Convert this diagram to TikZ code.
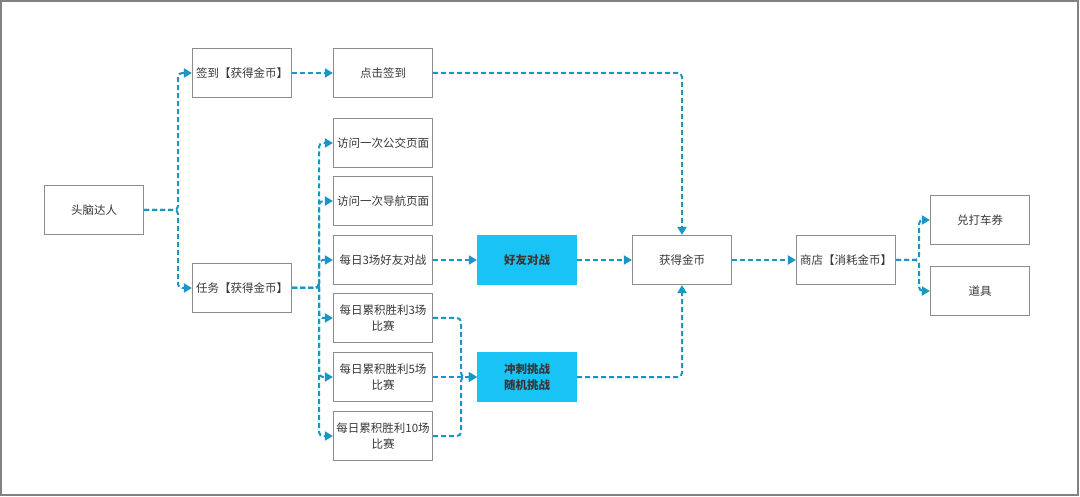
\documentclass[tikz,border=0pt]{standalone}
\usepackage{fontspec}
\setmainfont{Noto Sans CJK SC}
\usetikzlibrary{arrows.meta}
\definecolor{linec}{RGB}{27,150,196}
\definecolor{cyanf}{RGB}{25,195,245}
\definecolor{boxc}{RGB}{140,140,140}
\definecolor{txtc}{RGB}{55,55,55}
\definecolor{framec}{RGB}{130,130,130}
\tikzset{
  bx/.style={draw=boxc, line width=1.2pt, minimum width=99pt, minimum height=49pt, inner sep=1pt, align=center, text=txtc, font=\fontsize{11.5}{16}\selectfont},
  hl/.style={bx, fill=cyanf, draw=cyanf, font=\fontsize{11.5}{16}\selectfont\bfseries},
  conn/.style={draw=linec, line width=2pt, dash pattern=on 5pt off 3pt, rounded corners=4pt, -{Triangle[length=8pt,width=9pt]}},
}
\begin{document}
\begin{tikzpicture}[x=1pt,y=-1pt]
\useasboundingbox (0,0) rectangle (1080,497);
\draw[framec, line width=2pt] (1,1) rectangle (1078,495);
\node[bx] (root) at (94,210) {头脑达人};
\node[bx] (sign) at (242,73) {签到【获得金币】};
\node[bx] (click) at (383,73) {点击签到};
\node[bx] (task) at (242,288) {任务【获得金币】};
\node[bx] (t1) at (383,143) {访问一次公交页面};
\node[bx] (t2) at (383,201) {访问一次导航页面};
\node[bx] (t3) at (383,260) {每日3场好友对战};
\node[bx] (t4) at (383,318) {每日累积胜利3场\\比赛};
\node[bx] (t5) at (383,377) {每日累积胜利5场\\比赛};
\node[bx] (t6) at (383,436) {每日累积胜利10场\\比赛};
\node[hl] (friend) at (527,260) {好友对战};
\node[hl] (sprint) at (527,377) {冲刺挑战\\随机挑战};
\node[bx] (coin) at (682,260) {获得金币};
\node[bx] (shop) at (846,260) {商店【消耗金币】};
\node[bx] (taxi) at (980,220) {兑打车券};
\node[bx] (prop) at (980,291) {道具};

\draw[conn] (root.east) -| (178,140) |- (sign.west);
\draw[conn] (root.east) -| (178,250) |- (task.west);
\draw[conn] (sign.east) -- (click.west);
\draw[conn] (click.east) -| (coin.north);
\foreach \t in {t1,t2,t3,t4,t5,t6}{
  \draw[conn] (task.east) -| (319,288) |- (\t.west);
}
\draw[conn] (t3.east) -- (friend.west);
\draw[conn] (friend.east) -- (coin.west);
\draw[conn] (t4.east) -| (461,350) |- (sprint.west);
\draw[conn] (t5.east) -- (sprint.west);
\draw[conn] (t6.east) -| (461,400) |- (sprint.west);
\draw[conn] (sprint.east) -| (coin.south);
\draw[conn] (coin.east) -- (shop.west);
\draw[conn] (shop.east) -| (919,240) |- (taxi.west);
\draw[conn] (shop.east) -| (919,280) |- (prop.west);
\end{tikzpicture}
\end{document}
